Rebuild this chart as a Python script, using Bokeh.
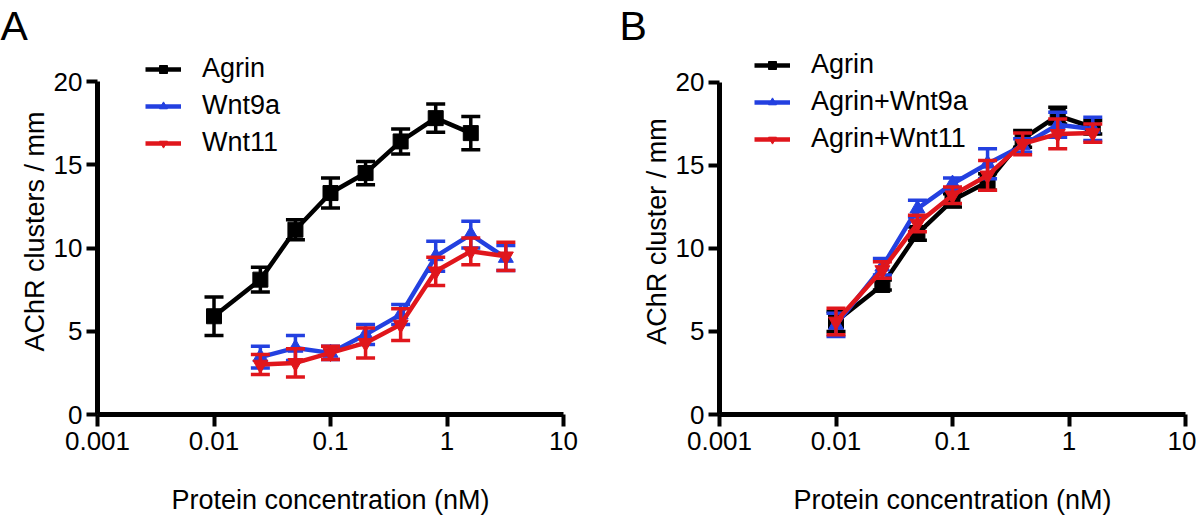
from bokeh.plotting import figure
from bokeh.layouts import row
from bokeh.models import FixedTicker, Legend, LegendItem, Title
from bokeh.embed import file_html
from bokeh.resources import INLINE

# ---------------- data ----------------
conc = [0.01, 0.025, 0.05, 0.1, 0.2, 0.4, 0.8, 1.6, 3.2]

# Panel A
a_agrin = [5.9, 8.1, 11.1, 13.3, 14.5, 16.4, 17.8, 16.9]
a_agrin_err = [1.15, 0.75, 0.6, 0.9, 0.7, 0.75, 0.85, 1.0]
a_wnt9a = [3.45, 4.0, 3.7, 4.8, 6.0, 9.5, 10.8, 9.4]
a_wnt9a_err = [0.65, 0.75, 0.4, 0.6, 0.6, 0.9, 0.8, 0.75]
a_wnt11 = [3.0, 3.1, 3.7, 4.3, 5.4, 8.6, 9.8, 9.5]
a_wnt11_err = [0.6, 0.85, 0.4, 0.9, 0.95, 0.85, 0.8, 0.85]

# Panel B
b_agrin = [5.6, 7.8, 10.9, 12.9, 14.0, 16.6, 18.0, 17.3]
b_agrin_err = [0.6, 0.3, 0.4, 0.4, 0.5, 0.5, 0.5, 0.4]
b_wnt9a = [5.4, 8.9, 12.4, 13.9, 15.1, 16.2, 17.45, 17.2]
b_wnt9a_err = [0.7, 0.5, 0.5, 0.35, 0.9, 0.4, 0.75, 0.7]
b_wnt11 = [5.6, 8.7, 11.5, 13.2, 14.4, 16.3, 16.9, 16.95]
b_wnt11_err = [0.8, 0.5, 0.5, 0.5, 0.9, 0.65, 0.9, 0.55]

x_ticks = [0.001, 0.01, 0.1, 1, 10]
x_tick_labels = ["0.001", "0.01", "0.1", "1", "10"]
y_ticks = [0, 5, 10, 15, 20]
y_axis_max = 20

BLACK = "#000000"
BLUE = "#2340e0"
RED = "#e0161c"
FONT = "Liberation Sans"
H = 524


def make_panel(width, left, right, top, y20_px, y0_px, ylabel, series,
               legend_loc, letter, letter_offset):
    bottom = H - y0_px
    # extend the frame above 20 so that the legend fits inside; the axis stops at 20
    y_end = y_axis_max * (y0_px - top) / (y0_px - y20_px)
    p = figure(width=width, height=H, x_axis_type="log",
               x_range=(0.001, 10), y_range=(0, y_end),
               output_backend="svg", toolbar_location=None,
               min_border_left=left, min_border_right=right,
               min_border_top=top, min_border_bottom=bottom)
    p.outline_line_color = None
    p.grid.visible = False
    p.background_fill_color = "white"
    p.border_fill_color = "white"

    t = Title(text=letter, text_font=FONT, text_font_size="41px",
              text_font_style="normal", text_color="black",
              align="left", offset=letter_offset, standoff=0)
    p.add_layout(t, "above")

    for ax in (p.xaxis[0], p.yaxis[0]):
        ax.axis_line_width = 5
        ax.major_tick_line_width = 4
        ax.minor_tick_line_color = None
        ax.major_tick_in = 0
        ax.major_label_text_font = FONT
        ax.major_label_text_font_size = "26px"
        ax.major_label_text_color = "black"
        ax.axis_label_text_font = FONT
        ax.axis_label_text_font_size = "27px"
        ax.axis_label_text_font_style = "normal"
        ax.axis_label_text_color = "black"

    p.xaxis.ticker = FixedTicker(ticks=x_ticks)
    p.xaxis.major_label_overrides = dict(zip(x_ticks, x_tick_labels))
    p.xaxis.major_tick_out = 12
    p.xaxis.major_label_standoff = 5
    p.xaxis.axis_label = "Protein concentration (nM)"
    p.xaxis.axis_label_standoff = 32

    p.yaxis.ticker = FixedTicker(ticks=y_ticks)
    p.yaxis.bounds = (0, y_axis_max)
    p.yaxis.major_tick_out = 11
    p.yaxis.major_label_standoff = 4
    p.yaxis.axis_label = ylabel
    p.yaxis.axis_label_standoff = 1

    items = []
    for name, xs, ys, errs, color, marker in series:
        lo = [y - e for y, e in zip(ys, errs)]
        hi = [y + e for y, e in zip(ys, errs)]
        p.segment(xs, lo, xs, hi, line_color=color, line_width=3.5)
        p.scatter(xs, lo, marker="dash", size=19, line_color=color, line_width=3.5)
        p.scatter(xs, hi, marker="dash", size=19, line_color=color, line_width=3.5)
        ln = p.line(xs, ys, line_color=color, line_width=4.5)
        mk = p.scatter(xs, ys, marker=marker, size=15, fill_color=color,
                       line_color=color)
        items.append(LegendItem(label=name, renderers=[ln, mk]))

    legend = Legend(items=items, location=legend_loc,
                    border_line_color=None, background_fill_alpha=0,
                    padding=0, margin=0, spacing=6,
                    glyph_width=36, glyph_height=20, label_height=20,
                    label_standoff=21,
                    label_text_font=FONT, label_text_font_size="27px",
                    label_text_color="black")
    p.add_layout(legend, "center")
    return p


seriesA = [
    ("Agrin", conc[:8], a_agrin, a_agrin_err, BLACK, "square"),
    ("Wnt9a", conc[1:], a_wnt9a, a_wnt9a_err, BLUE, "triangle"),
    ("Wnt11", conc[1:], a_wnt11, a_wnt11_err, RED, "inverted_triangle"),
]
seriesB = [
    ("Agrin", conc[:8], b_agrin, b_agrin_err, BLACK, "square"),
    ("Agrin+Wnt9a", conc[:8], b_wnt9a, b_wnt9a_err, BLUE, "triangle"),
    ("Agrin+Wnt11", conc[:8], b_wnt11, b_wnt11_err, RED, "inverted_triangle"),
]

pA = make_panel(600, 97, 37, 48, 81, 414, "AChR clusters / mm", seriesA,
                (48, 256), "A", -97)
pB = make_panel(596, 119, 11, 48, 82, 415, "AChR cluster / mm", seriesB,
                (35, 260), "B", -100)

layout = row(pA, pB)
open("out.html", "w").write(file_html(layout, INLINE))
